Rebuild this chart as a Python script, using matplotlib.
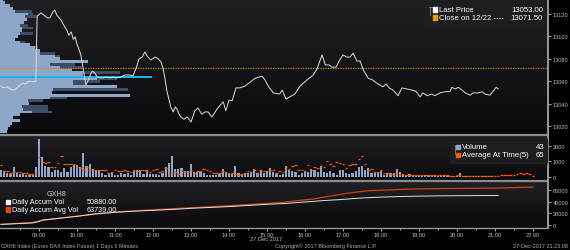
import matplotlib
matplotlib.use("Agg")
import matplotlib.pyplot as plt
import numpy as np
from matplotlib.lines import Line2D
from matplotlib.patches import Rectangle
from matplotlib.colors import LinearSegmentedColormap

# ---------------- data ----------------
price_times = ["08:00","08:03","08:09","08:14","08:21","08:25","08:30","08:35","08:39","08:44","08:51","08:55",
               "08:57","09:03","09:08","09:13","09:17","09:22","09:25","09:28","09:32","09:35","09:39","09:44",
               "09:47","09:51","09:54","09:57","10:00","10:03","10:06","10:08","10:11","10:14","10:17","10:21",
               "10:24","10:28","10:32","10:36","10:41","10:46","10:52","10:57","11:03","11:08","11:16","11:24",
               "11:28","11:33","11:38","11:43","11:47","11:52","11:57","12:03","12:08","12:13","12:16","12:19",
               "12:22","12:25","12:28","12:32","12:35","12:38","12:41","12:44","12:49","12:54","13:00","13:06",
               "13:11","13:17","13:22","13:27","13:33","13:41","13:46","13:51","13:55","14:00","14:05","14:11",
               "14:17","14:25","14:33","14:41","14:52","14:57","15:02","15:10","15:20","15:24","15:30","15:36",
               "15:44","15:52","16:03","16:13","16:19","16:27","16:32","16:38","16:43","16:49","16:54","17:00",
               "17:06","17:11","17:16","17:22","17:27","17:32","17:40","17:47","17:55","18:03","18:08","18:13",
               "18:19","18:27","18:33","18:41","18:49","18:55","19:02","19:06","19:13","19:20","19:25","19:33",
               "19:41","19:49","19:52","19:57","20:02","20:08","20:13","20:21","20:25","20:33","20:40","20:44",
               "20:52","20:57","21:02","21:05"]
price_values = [13055.5,13054,13055,13053,13052,13054,13056.5,13058.5,13057.5,13060,13059.5,13060,
                13118,13121,13119,13116.5,13116.5,13122,13123.5,13119,13116.5,13114.5,13110,13105.5,
                13101,13104,13097.5,13099.5,13093,13088.5,13083.5,13077,13066.5,13056.5,13060,13065.5,
                13069,13067.5,13063.5,13063,13063,13063.5,13063,13063.5,13063,13063.5,13065.5,13065.5,
                13064.5,13071,13080,13081.5,13086,13081.5,13079,13081.5,13080,13077,13071,13062,
                13051,13044,13037,13032.5,13037,13035,13030.5,13028,13026,13028,13023.5,13033.5,
                13036,13030.5,13032.5,13032.5,13028,13035,13038.5,13041.5,13033.5,13043,13042.5,13054,
                13054,13055.5,13059,13062.5,13064.5,13061,13055.5,13049.5,13048.5,13052,13044,13046,
                13048.5,13055.5,13061,13065.5,13071,13083.5,13074.5,13074.5,13072.5,13072.5,13078,13083.5,
                13081.5,13081.5,13085,13078,13078,13070,13062.5,13061,13057.5,13055,13057.5,13054,
                13052,13047,13054,13053,13052,13051,13046,13049.5,13047,13048.5,13047,13049.5,
                13050.5,13051,13054.5,13053,13054.5,13052,13049.5,13047.5,13049.5,13049.5,13050.5,13048.5,
                13047.5,13051,13054.5,13053]
last_price = 13053.00
prev_close = 13071.50

# volume-at-price profile (price bins of 2.5 pts)
profile_prices = [13132.5,13130,13127.5,13125,13122.5,13120,13117.5,13115,13112.5,13110,13107.5,13105,
                  13102.5,13100,13097.5,13095,13092.5,13090,13087.5,13085,13082.5,13080,13077.5,13075,
                  13072.5,13070,13067.5,13065,13062.5,13060,13057.5,13055,13052.5,13050,13047.5,13045,
                  13042.5,13040,13037.5,13035,13032.5,13030,13027.5,13025,13022.5,13020,13017.5,13015]
profile_light = [30,50,100,130,150,280,250,270,240,200,220,220,200,180,150,200,300,350,400,400,550,600,880,500,
                 600,720,830,830,970,730,730,1170,530,520,1300,500,280,290,220,230,320,200,130,200,120,100,80,70]
profile_total = [30,50,100,130,320,330,380,270,240,280,330,220,330,180,150,250,300,380,400,550,600,600,880,750,
                 820,720,1200,830,1170,1000,860,1170,1280,520,1300,670,430,290,480,480,520,200,130,200,120,100,80,70]
poc_price = 13063.75
poc_volume = 1520

# 5-minute volume bars starting 08:00
bar_start = "08:00"
bar_minutes = 5
volume = [470,390,260,215,645,280,215,260,170,110,215,645,2410,1290,690,645,320,430,430,320,600,320,645,800,
          800,645,1500,710,820,540,470,470,260,170,260,320,170,170,260,215,260,170,390,470,
          430,215,430,215,215,215,170,260,645,900,1330,540,540,600,390,390,860,320,320,390,260,170,170,170,
          170,215,540,320,260,215,730,260,170,260,260,320,540,260,430,260,390,600,320,
          215,170,215,730,430,390,320,170,260,390,320,540,430,320,710,320,260,390,260,110,430,430,260,215,
          260,390,645,730,470,580,260,320,320,390,170,260,260,260,540,320,215,170,215,
          150,130,170,120,110,150,130,100,90,110,120,100,80,90,100,260,90,80,70,90,80,70,90,70,80,60,43]
avg_at_time = [750,390,390,260,300,320,320,260,240,215,215,260,1250,970,920,970,645,645,900,1350,860,860,860,860,
               645,600,540,645,430,470,470,430,470,430,260,320,430,390,390,470,390,320,470,390,
               470,470,390,320,430,540,320,390,600,260,260,320,215,390,320,320,430,260,390,390,520,430,390,260,
               260,260,390,260,215,260,215,170,215,260,390,320,430,215,430,390,390,430,430,
               260,390,320,645,540,690,750,470,430,390,750,430,645,600,690,645,1030,820,710,970,900,820,600,750,
               820,820,1120,1330,820,470,540,320,320,430,260,260,215,170,260,170,215,170,170,
               150,140,150,130,130,140,120,120,110,110,120,110,100,100,110,120,100,100,90,90,
               100,90,90,90,100,90,90,100,110,120,130,150,170,200,260,230,260,200,65]

accum_times = ["08:00","08:50","09:00","09:05","09:30","10:00","10:30","11:00","11:30","12:00","12:30","13:00",
               "13:30","14:00","14:30","15:00","15:30","16:00","16:30","17:00","17:30","18:00","18:30","19:00",
               "19:30","20:00","20:30","21:05"]
accum_vol = [500,3000,5500,8000,11000,14500,19000,21500,23500,25000,26500,28500,
             30000,31500,33500,35500,37000,39500,42000,44000,46500,48000,49000,49700,
             50100,50400,50600,50880]
accum_avg_times = ["08:00","08:50","09:05","10:00","11:00","12:00","13:00","14:00","15:00","15:20","16:13",
                   "17:06","17:40","18:49","20:21","21:05","22:00"]
accum_avg = [800,4000,7500,15000,22000,26000,29500,33000,37000,38500,44700,54600,59100,62100,63300,63739,65500]

hour_ticks = ["09:00","10:00","11:00","12:00","13:00","14:00","15:00","16:00","17:00","18:00","19:00","20:00","21:00","22:00"]
price_ticks = [13020,13040,13060,13080,13100,13120]
vol_ticks = [0,1000,2000]
accum_ticks = [0,20000,40000,60000]

# ---------------- helpers ----------------
def hrs(s):
    h, m = s.split(":")
    return int(h) + int(m) / 60.0

W, H = 570, 251
def P(x, y):
    return (x / W, 1 - y / H)

plt.rcParams['font.family'] = ['Liberation Sans', 'DejaVu Sans']
LEG = 5.6
LEG3 = 5.2
TICK = 4.1

fig = plt.figure(figsize=(W / 100, H / 100), dpi=100, facecolor='black')
XMIN, XMAX = 7 + 58.4 / 60, 22 + 23.7 / 60
AXW = 548 / W

ax1 = fig.add_axes([0, 116 / H, AXW, 135 / H])
ax2 = fig.add_axes([0, 70 / H, AXW, 44 / H])
ax3 = fig.add_axes([0, 22 / H, AXW, 46 / H])

grad = LinearSegmentedColormap.from_list('g', ['#0a0a0e', '#202024'])
for ax, (y0, y1) in [(ax1, (13012.8, 13133.4)), (ax2, (-174, 2600)), (ax3, (-5740, 74260))]:
    ax.set_xlim(XMIN, XMAX)
    ax.set_ylim(y0, y1)
    ax.imshow(np.linspace(0, 1, 100).reshape(-1, 1), extent=[XMIN, XMAX, y0, y1], aspect='auto',
              cmap=grad, origin='lower', zorder=0)
    ax.set_facecolor('black')
    for s in ['top', 'left', 'bottom']:
        ax.spines[s].set_visible(False)
    ax.spines['right'].set_color('#9a9a9a')
    ax.spines['right'].set_linewidth(1.2)
    ax.yaxis.tick_right()
    ax.tick_params(axis='y', direction='out', length=2.5, width=0.6, pad=1, labelsize=TICK,
                   colors='#c0c0c0')
    ax.tick_params(axis='x', bottom=False, labelbottom=False)

# ---- top panel ----
pscale = (XMAX - XMIN) / 5480.0
ax1.barh(profile_prices, np.array(profile_total) * pscale, left=XMIN, height=2.5, color='#3e4d66', zorder=1)
ax1.barh(profile_prices, np.array(profile_light) * pscale, left=XMIN, height=2.5, color='#8ea6c8', zorder=2)
ax1.barh([poc_price], [poc_volume * pscale], left=XMIN, height=1.9, color='#12b4ec', zorder=3)
ax1.axhline(prev_close, color='#d08a10', lw=0.9, ls=(0, (1, 1)), zorder=4)
ax1.plot([hrs(t) for t in price_times], price_values, color='#dcdcdc', lw=0.7, zorder=5)
ax1.set_yticks(price_ticks)
ax1.set_yticklabels([str(v) for v in price_ticks])

# ---- volume panel ----
t0 = hrs(bar_start)
bx = t0 + np.arange(len(volume)) * bar_minutes / 60.0
ax2.bar(bx, volume, width=0.65 * bar_minutes / 60.0, color='#8ea6c8', zorder=2)
ax_x = t0 + np.arange(len(avg_at_time)) * bar_minutes / 60.0
hw = 0.42 * bar_minutes / 60.0
ax2.hlines(avg_at_time, ax_x - hw, ax_x + hw, color='#ff5a00', lw=0.9, zorder=3)
ax2.set_yticks(vol_ticks)
ax2.set_yticklabels([str(v) for v in vol_ticks])

# ---- accum panel ----
ax3.plot([hrs(t) for t in accum_times], accum_vol, color='#e0e0e0', lw=0.7, zorder=3)
ax3.plot([hrs(t) for t in accum_avg_times], accum_avg, color='#d2400e', lw=0.9, zorder=2)
ax3.set_yticks(accum_ticks)
ax3.set_yticklabels([str(v) for v in accum_ticks])
ax3.set_xticks([hrs(t) for t in hour_ticks])
ax3.set_xticks([h + 0.5 for h in range(8, 22)], minor=True)
ax3.set_xticklabels(hour_ticks)
ax3.tick_params(axis='x', which='both', bottom=True, labelbottom=True, direction='out', length=2,
                width=0.6, pad=0.8, labelsize=TICK, colors='#c0c0c0')
ax3.tick_params(axis='x', which='minor', length=1.5)
ax3.spines['bottom'].set_visible(True)
ax3.spines['bottom'].set_color('#9a9a9a')
ax3.spines['bottom'].set_linewidth(1.0)

# ---- separators ----
for yy in [136.2, 182.2]:
    fig.add_artist(Line2D([0, AXW], [1 - yy / H] * 2, color='#8c8c8c', lw=1.6))
fig.add_artist(Line2D([AXW, AXW], [1 - 229 / H, 1], color='#9a9a9a', lw=1.2))

# ---- top legend ----
fig.add_artist(Rectangle(P(425, 28), 120 / W, 26 / H, color='#1d1d22', zorder=6))
fig.add_artist(Line2D([430 / W, 430 / W], [1 - 8 / H, 1 - 16 / H], color='#808080', lw=0.6, zorder=7))
fig.add_artist(Line2D([428.5 / W, 431.5 / W], [1 - 8 / H] * 2, color='#808080', lw=0.6, zorder=7))
fig.add_artist(Rectangle(P(432.5, 12.5), 4 / W, 4.5 / H, color='white', zorder=7))
fig.add_artist(Rectangle(P(432.5, 20.5), 4 / W, 4.5 / H, color='#f39800', zorder=7))
fig.text(*P(439, 10), 'Last Price', color='white', fontsize=LEG, va='center', zorder=8)
fig.text(*P(543, 10), f'{last_price:.2f}', color='white', fontsize=LEG, va='center', ha='right', zorder=8)
fig.text(*P(439, 18), 'Close on 12/22 ----', color='white', fontsize=LEG, va='center', zorder=8)
fig.text(*P(543, 18), f'{prev_close:.2f}', color='white', fontsize=LEG, va='center', ha='right', zorder=8)

# ---- volume legend ----
fig.add_artist(Rectangle(P(450, 164), 97 / W, 24 / H, color='#1d1d22', zorder=6))
fig.add_artist(Line2D([454.5 / W, 454.5 / W], [1 - 146 / H, 1 - 155 / H], color='#808080', lw=0.6, zorder=7))
fig.add_artist(Rectangle(P(456, 150), 4 / W, 4.5 / H, color='#8ea6c8', zorder=7))
fig.add_artist(Rectangle(P(456, 158), 4 / W, 4.5 / H, color='#ff5a00', zorder=7))
fig.text(*P(462, 147.5), 'Volume', color='white', fontsize=LEG, va='center', zorder=8)
fig.text(*P(544, 147.5), str(volume[-1]), color='white', fontsize=LEG, va='center', ha='right', zorder=8)
fig.text(*P(462, 155.5), 'Average At Time(5)', color='white', fontsize=LEG, va='center', zorder=8)
fig.text(*P(544, 155.5), str(avg_at_time[-1]), color='white', fontsize=LEG, va='center', ha='right', zorder=8)

# ---- accum legend ----
fig.text(*P(57, 195), 'GXH8', color='#d0d0d0', fontsize=LEG3, va='center', ha='center')
fig.add_artist(Rectangle(P(5.5, 205), 4 / W, 4.5 / H, color='white'))
fig.add_artist(Rectangle(P(5.5, 212.5), 4 / W, 4.5 / H, color='#e04810'))
fig.text(*P(12, 202.5), 'Daily Accum Vol', color='white', fontsize=LEG3, va='center')
fig.text(*P(117, 202.5), f'{accum_vol[-1]:.2f}', color='white', fontsize=LEG3, va='center', ha='right')
fig.text(*P(12, 210), 'Daily Accum Avg Vol', color='white', fontsize=LEG3, va='center')
fig.text(*P(117, 210), f'{accum_avg[-2]:.2f}', color='white', fontsize=LEG3, va='center', ha='right')

# ---- footer ----
fig.text(*P(266, 239.5), '27 Dec 2017', color='#c0c0c0', fontsize=TICK, va='center', ha='center')
fig.text(*P(1, 246.5), 'GXH8 Index (Eurex DAX Index Future) 1 Days 5 Minutes', color='#b0b0b0',
         fontsize=3.9, va='center')
fig.text(*P(275, 246.5), 'Copyright\u00a9 2017 Bloomberg Finance L.P.', color='#b0b0b0', fontsize=4.0, va='center')
fig.text(*P(568, 246.5), '27-Dec-2017 21:23:08', color='#b0b0b0', fontsize=4.0, va='center', ha='right')

fig.savefig('out.png', dpi=100, facecolor='black')
